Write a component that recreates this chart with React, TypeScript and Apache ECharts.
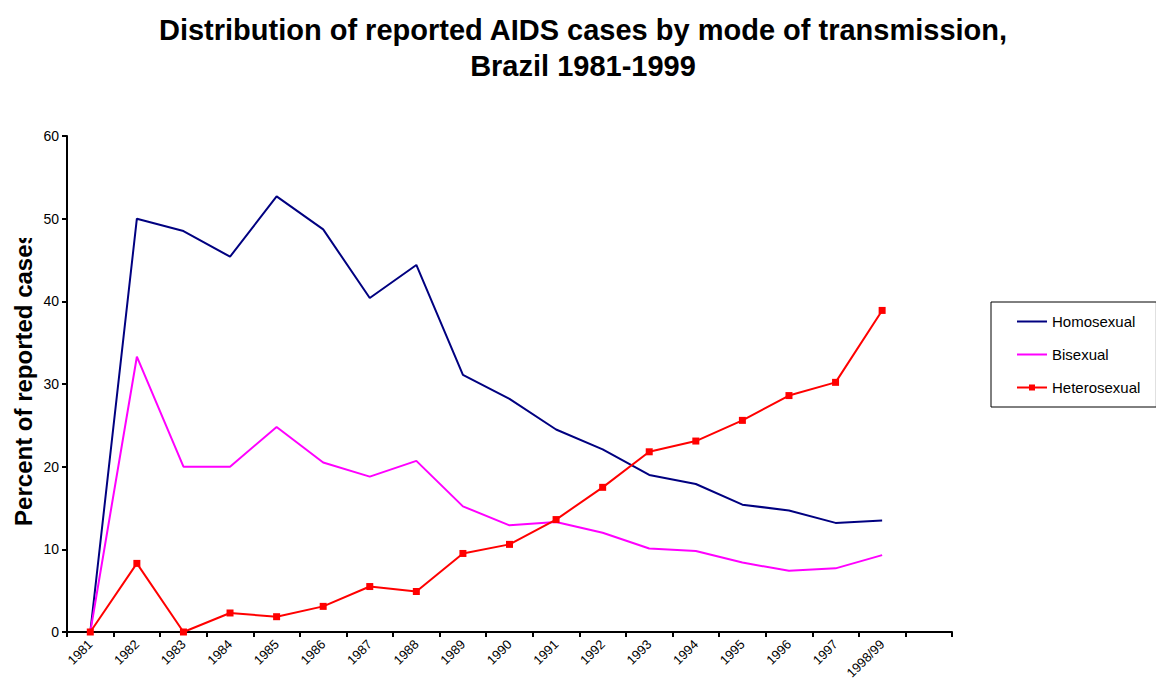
import React, { useEffect, useRef } from "react";
import * as echarts from "echarts";

const categories = [
  "1981", "1982", "1983", "1984", "1985", "1986", "1987", "1988", "1989",
  "1990", "1991", "1992", "1993", "1994", "1995", "1996", "1997", "1998/99", "",
];

const homosexual = [0, 50.0, 48.5, 45.4, 52.7, 48.7, 40.4, 44.4, 31.1, 28.2, 24.5, 22.1, 19.0, 17.9, 15.4, 14.7, 13.2, 13.5];
const bisexual = [0, 33.3, 20.0, 20.0, 24.8, 20.5, 18.8, 20.7, 15.2, 12.9, 13.3, 12.0, 10.1, 9.8, 8.4, 7.4, 7.7, 9.3];
const heterosexual = [0, 8.3, 0, 2.3, 1.85, 3.1, 5.5, 4.9, 9.5, 10.6, 13.6, 17.5, 21.8, 23.1, 25.6, 28.6, 30.2, 38.9];

const titleLine1 = "Distribution of reported AIDS cases by mode of transmission,";
const titleLine2 = "Brazil 1981-1999";
const yAxisTitle = "Percent of reported cases";

const FONT = "Arial, 'Liberation Sans', sans-serif";

const LINE_ICON = "path://M0,0L0,0M0,6L30,6L30,8L0,8ZM30,14L30,14";
const LINE_SQUARE_ICON =
  "path://M0,0L0,0M0,6L12,6L12,4L18,4L18,6L30,6L30,8L18,8L18,10L12,10L12,8L0,8ZM30,14L30,14";

export default function App() {
  const ref = useRef<HTMLDivElement>(null);

  useEffect(() => {
    if (!ref.current) return;
    const chart = echarts.init(ref.current, null, { renderer: "svg" });
    chart.setOption({
      animation: false,
      backgroundColor: "#ffffff",
      textStyle: { fontFamily: FONT },
      grid: {
        left: 67,
        right: 204,
        top: 136,
        bottom: 50,
        containLabel: false,
        outerBoundsMode: "none",
      },
      legend: {
        orient: "vertical",
        left: 991,
        top: 302,
        padding: [12, 16, 12, 26],
        itemWidth: 30,
        itemHeight: 14,
        itemGap: 18,
        borderColor: "#000000",
        borderWidth: 1,
        textStyle: { color: "#000000", fontSize: 15, fontFamily: FONT },
        data: [
          { name: "Homosexual", icon: LINE_ICON },
          { name: "Bisexual", icon: LINE_ICON },
          { name: "Heterosexual", icon: LINE_SQUARE_ICON },
        ],
      },
      xAxis: {
        type: "category",
        data: categories,
        boundaryGap: true,
        axisLine: { show: true, lineStyle: { color: "#000000", width: 2 } },
        axisTick: { show: true, alignWithLabel: false, interval: 0, length: 5, lineStyle: { color: "#000000", width: 2 } },
        axisLabel: { interval: 0, rotate: 45, margin: 10, color: "#000000", fontSize: 13, fontFamily: FONT },
        splitLine: { show: false },
      },
      yAxis: {
        type: "value",
        min: 0,
        max: 60,
        interval: 10,
        axisLine: { show: true, lineStyle: { color: "#000000", width: 2 } },
        axisTick: { show: true, length: 5, lineStyle: { color: "#000000", width: 2 } },
        axisLabel: { margin: 8, color: "#000000", fontSize: 14, fontFamily: FONT },
        splitLine: { show: false },
      },
      graphic: [
        {
          type: "text",
          x: 583,
          y: 30,
          style: {
            text: titleLine1,
            font: "bold 29px " + FONT,
            fill: "#000000",
            textAlign: "center",
            textVerticalAlign: "middle",
          },
        },
        {
          type: "text",
          x: 583,
          y: 66,
          style: {
            text: titleLine2,
            font: "bold 29px " + FONT,
            fill: "#000000",
            textAlign: "center",
            textVerticalAlign: "middle",
          },
        },
        {
          type: "text",
          x: 23,
          y: 378.5,
          rotation: Math.PI / 2,
          z: 10,
          style: {
            text: yAxisTitle,
            font: "bold 24px " + FONT,
            fill: "#000000",
            textAlign: "center",
            textVerticalAlign: "middle",
          },
        },
        {
          type: "rect",
          z: 11,
          shape: { x: 0, y: 120, width: 42, height: 118 },
          style: { fill: "#ffffff" },
        },
      ],
      series: [
        {
          name: "Homosexual",
          type: "line",
          data: homosexual,
          symbol: "none",
          color: "#000080",
          lineStyle: { color: "#000080", width: 2 },
        },
        {
          name: "Bisexual",
          type: "line",
          data: bisexual,
          symbol: "none",
          color: "#FF00FF",
          lineStyle: { color: "#FF00FF", width: 2 },
        },
        {
          name: "Heterosexual",
          type: "line",
          data: heterosexual,
          symbol: "rect",
          symbolSize: 7,
          color: "#FF0000",
          itemStyle: { color: "#FF0000" },
          lineStyle: { color: "#FF0000", width: 2 },
        },
      ],
    });
    return () => chart.dispose();
  }, []);

  return (
    <div
      ref={ref}
      style={{ position: "fixed", left: 0, top: 0, width: 1156, height: 682 }}
    />
  );
}
